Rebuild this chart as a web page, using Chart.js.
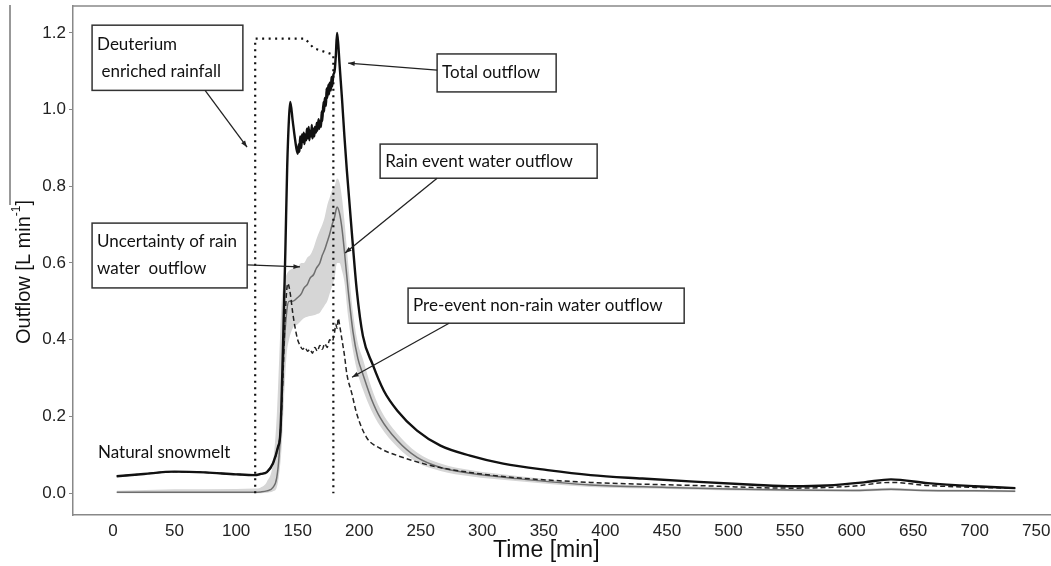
<!DOCTYPE html>
<html>
<head>
<meta charset="utf-8">
<script src="https://cdn.jsdelivr.net/npm/chart.js@4/dist/chart.umd.min.js"></script>
<style>
  html, body { margin: 0; padding: 0; background: #fff; }
  #wrap { width: 1051px; height: 566px; }
</style>
</head>
<body>
<div id="wrap"><canvas id="outflowChart"></canvas></div>
<script>
// tick labels
const xTicks = [0, 50, 100, 150, 200, 250, 300, 350, 400, 450, 500, 550, 600, 650, 700, 750];
const yTicks = [0, 0.2, 0.4, 0.6, 0.8, 1.0, 1.2];

// deuterium enriched rainfall (dotted)
const rainfallTime = [115.5, 115.5, 156, 163, 179, 179];
const rainfallRate = [0, 1.185, 1.185, 1.16, 1.143, 0];

// total outflow (black)
const totalTime = [3, 25, 50, 75, 100, 115, 120, 125, 130, 134, 136, 138, 140, 141.5, 143, 144, 146, 148, 150,
  151, 151.5, 152, 153, 153.5, 154, 155, 155.5, 156, 157, 157.5, 158, 159, 159.5, 160, 161, 161.5, 162, 163, 163.5, 164,
  165, 165.5, 166, 167, 167.5, 168, 169, 169.5, 170, 171, 171.5, 172, 173, 173.5, 174, 175, 175.5, 176, 177, 177.5, 178,
  179, 180, 181, 182, 183, 184, 186, 188, 190, 194, 198, 203,
  211, 220, 231, 247, 266, 290, 317, 353, 388, 430, 472, 520, 553, 580, 610, 632, 662, 700, 733];
const totalFlow = [0.044, 0.05, 0.056, 0.054, 0.049, 0.047, 0.05, 0.055, 0.078, 0.12, 0.16, 0.37, 0.63, 0.85, 0.98, 1.02, 0.97, 0.92, 0.885,
  0.91, 0.89, 0.93, 0.9, 0.935, 0.915, 0.94, 0.91, 0.935, 0.92, 0.95, 0.925, 0.955, 0.92, 0.945, 0.93, 0.96, 0.925, 0.95, 0.93, 0.955,
  0.94, 0.965, 0.945, 0.975, 0.95, 0.97, 0.955, 0.995, 0.97, 1.02, 0.995, 1.03, 1.01, 1.055, 1.03, 1.065, 1.04, 1.07, 1.05, 1.085, 1.06,
  1.09, 1.1, 1.14, 1.2, 1.17, 1.12, 1.03, 0.93, 0.84, 0.68, 0.53, 0.41,
  0.335, 0.267, 0.215, 0.163, 0.124, 0.098, 0.077, 0.06, 0.047, 0.038, 0.03, 0.022, 0.018, 0.02, 0.028, 0.036, 0.026, 0.018, 0.013];

// pre-event non-rain water outflow (dashed)
const preTime = [3, 25, 50, 75, 100, 115, 120, 125, 130, 134, 136, 138, 140, 142, 144, 146, 148, 150, 152, 154, 156, 158,
  160, 162, 164, 166, 168, 170, 172, 174, 176, 178, 180, 181, 182, 183, 184, 186, 188, 190, 194, 198, 206, 217, 231,
  258, 290, 325, 388, 472, 553, 600, 632, 662, 700, 733];
const preFlow = [0.044, 0.05, 0.056, 0.054, 0.049, 0.047, 0.05, 0.055, 0.078, 0.12, 0.16, 0.3, 0.47, 0.547, 0.52, 0.47, 0.43, 0.40, 0.385, 0.375, 0.38, 0.37,
  0.375, 0.365, 0.38, 0.37, 0.385, 0.375, 0.39, 0.38, 0.40, 0.395, 0.42, 0.44, 0.43, 0.456, 0.44, 0.40, 0.36, 0.31, 0.26, 0.207, 0.145, 0.117, 0.098,
  0.072, 0.054, 0.041, 0.028, 0.02, 0.013, 0.018, 0.028, 0.02, 0.015, 0.013];

// rain event water outflow (grey) and its uncertainty band
const rainTime = [3, 50, 100, 115, 120, 125, 130, 133, 135, 137, 139, 141, 143, 146, 150, 153, 155, 158, 160, 163, 165, 168,
  170, 172, 174, 176, 178, 180, 182, 184, 186, 188, 191, 195, 199, 203, 210, 217, 231, 247, 266, 290, 325, 388,
  450, 500, 550, 600, 632, 660, 700, 733];
const rainFlow = [0.002, 0.002, 0.002, 0.002, 0.003, 0.006, 0.015, 0.04, 0.1, 0.22, 0.38, 0.47, 0.5, 0.5, 0.51, 0.52, 0.534, 0.545, 0.56, 0.57, 0.585, 0.6,
  0.62, 0.635, 0.655, 0.675, 0.70, 0.72, 0.746, 0.73, 0.69, 0.63, 0.53, 0.42, 0.35, 0.31, 0.245, 0.197, 0.137, 0.093, 0.067, 0.052, 0.039, 0.021,
  0.015, 0.011, 0.008, 0.007, 0.01, 0.007, 0.006, 0.005];
const rainLow = [0, 0, 0, 0, 0, 0.001, 0.005, 0.015, 0.05, 0.12, 0.25, 0.36, 0.40, 0.43, 0.44, 0.45, 0.456, 0.46, 0.462, 0.464, 0.466, 0.47,
  0.48, 0.49, 0.5, 0.52, 0.54, 0.56, 0.6, 0.6, 0.58, 0.55, 0.46, 0.37, 0.31, 0.27, 0.215, 0.175, 0.12, 0.08, 0.058, 0.044, 0.032, 0.016,
  0.011, 0.007, 0.005, 0.004, 0.006, 0.004, 0.003, 0.002];
const rainHigh = [0.006, 0.01, 0.011, 0.012, 0.015, 0.03, 0.08, 0.2, 0.35, 0.5, 0.55, 0.57, 0.58, 0.585, 0.59, 0.6, 0.6, 0.615, 0.62, 0.64, 0.66, 0.685,
  0.7, 0.72, 0.75, 0.77, 0.79, 0.8, 0.82, 0.81, 0.77, 0.71, 0.6, 0.47, 0.39, 0.35, 0.275, 0.22, 0.155, 0.106, 0.077, 0.06, 0.046, 0.026,
  0.019, 0.014, 0.011, 0.01, 0.014, 0.01, 0.009, 0.008];

// callout boxes, anchored in data units (time, outflow)
const callouts = [
  { lines: ['Deuterium', ' enriched rainfall'], box: [-17, 1.22, 105.5, 1.05], arrow: [74.8, 1.05, 108.9, 0.902] },
  { lines: ['Uncertainty of rain', 'water  outflow'], box: [-17, 0.704, 109, 0.535], arrow: [109, 0.595, 151.9, 0.59] },
  { lines: ['Total outflow'], box: [263.3, 1.145, 360, 1.046], arrow: [263.3, 1.103, 191, 1.121] },
  { lines: ['Rain event water outflow'], box: [217, 0.91, 393.3, 0.821], arrow: [263.3, 0.821, 188.5, 0.626] },
  { lines: ['Pre-event non-rain water outflow'], box: [239.7, 0.5345, 464, 0.443], arrow: [273, 0.443, 194.2, 0.302] },
  { lines: ['Natural snowmelt'], at: [-12.2, 0.107] }
];

const pts = (ts, vs) => ts.map((t, i) => ({ x: t, y: vs[i] }));
const labelFont = '17px Lato, "Open Sans", sans-serif';
const axisFont = '"Liberation Sans", Arial, sans-serif';

const calloutPlugin = {
  id: 'callouts',
  afterDatasetsDraw(chart) {
    const { ctx, scales: { x, y } } = chart;
    ctx.save();
    ctx.font = labelFont;
    ctx.fillStyle = '#111';
    ctx.textBaseline = 'middle';
    ctx.textAlign = 'left';
    callouts.forEach(c => {
      if (c.at) {
        ctx.fillText(c.lines[0], x.getPixelForValue(c.at[0]), y.getPixelForValue(c.at[1]));
        return;
      }
      const x0 = x.getPixelForValue(c.box[0]), y0 = y.getPixelForValue(c.box[1]);
      const x1 = x.getPixelForValue(c.box[2]), y1 = y.getPixelForValue(c.box[3]);
      ctx.fillStyle = '#fff';
      ctx.fillRect(x0, y0, x1 - x0, y1 - y0);
      ctx.strokeStyle = '#333';
      ctx.lineWidth = 1.5;
      ctx.strokeRect(x0, y0, x1 - x0, y1 - y0);
      ctx.fillStyle = '#111';
      const mid = (y0 + y1) / 2;
      const gap = 27;
      c.lines.forEach((line, i) => {
        const ly = mid + (i - (c.lines.length - 1) / 2) * gap;
        ctx.fillText(line, x0 + 5, ly);
      });

      // arrow
      const ax0 = x.getPixelForValue(c.arrow[0]), ay0 = y.getPixelForValue(c.arrow[1]);
      const ax1 = x.getPixelForValue(c.arrow[2]), ay1 = y.getPixelForValue(c.arrow[3]);
      const ang = Math.atan2(ay1 - ay0, ax1 - ax0);
      ctx.strokeStyle = '#222';
      ctx.lineWidth = 1.3;
      ctx.beginPath();
      ctx.moveTo(ax0, ay0);
      ctx.lineTo(ax1, ay1);
      ctx.stroke();
      ctx.fillStyle = '#222';
      ctx.beginPath();
      ctx.moveTo(ax1, ay1);
      ctx.lineTo(ax1 - 7 * Math.cos(ang - 0.35), ay1 - 7 * Math.sin(ang - 0.35));
      ctx.lineTo(ax1 - 7 * Math.cos(ang + 0.35), ay1 - 7 * Math.sin(ang + 0.35));
      ctx.closePath();
      ctx.fill();
      ctx.fillStyle = '#111';
    });
    ctx.restore();
  },
  afterDraw(chart) {
    const { ctx, chartArea, scales: { x } } = chart;
    ctx.save();
    // top frame line
    ctx.strokeStyle = '#888';
    ctx.lineWidth = 1.5;
    ctx.beginPath();
    ctx.moveTo(chartArea.left, chartArea.top);
    ctx.lineTo(chartArea.right, chartArea.top);
    ctx.stroke();

    // x title
    ctx.fillStyle = '#111';
    ctx.textAlign = 'center';
    ctx.textBaseline = 'middle';
    ctx.font = '23px ' + axisFont;
    ctx.fillText('Time [min]', x.getPixelForValue(352), 551);

    // y title with superscript
    const cy = 272;
    ctx.translate(24, cy);
    ctx.rotate(-Math.PI / 2);
    ctx.textAlign = 'left';
    ctx.font = '20px ' + axisFont;
    const a = 'Outflow [L min', b = '-1', c = ']';
    const wa = ctx.measureText(a).width, wc = ctx.measureText(c).width;
    ctx.font = '12px ' + axisFont;
    const wb = ctx.measureText(b).width;
    const total = wa + wb + wc;
    let px = -total / 2;
    ctx.font = '20px ' + axisFont;
    ctx.fillText(a, px, 0);
    px += wa;
    ctx.font = '12px ' + axisFont;
    ctx.fillText(b, px, -7);
    px += wb;
    ctx.font = '20px ' + axisFont;
    ctx.fillText(c, px, 0);
    // overline artefact above the title
    ctx.strokeStyle = '#333';
    ctx.lineWidth = 1;
    ctx.beginPath();
    ctx.moveTo(cy - 205, -14);
    ctx.lineTo(cy - 5, -14);
    ctx.stroke();
    ctx.restore();
  }
};

const ctx = document.getElementById('outflowChart').getContext('2d');
new Chart(ctx, {
  type: 'line',
  data: {
    datasets: [
      {
        label: 'Total outflow',
        data: pts(totalTime, totalFlow),
        borderColor: '#111',
        borderWidth: 2.4,
        cubicInterpolationMode: 'monotone',
        pointRadius: 0,
        fill: false
      },
      {
        label: 'Deuterium enriched rainfall',
        data: pts(rainfallTime, rainfallRate),
        borderColor: '#111',
        borderWidth: 2.2,
        borderDash: [2, 4.5],
        pointRadius: 0,
        tension: 0,
        fill: false
      },
      {
        label: 'Pre-event non-rain water outflow',
        data: pts(preTime, preFlow),
        borderColor: '#222',
        borderWidth: 1.5,
        borderDash: [5, 3],
        cubicInterpolationMode: 'monotone',
        pointRadius: 0,
        fill: false
      },
      {
        label: 'Rain event water outflow',
        data: pts(rainTime, rainFlow),
        borderColor: '#6e6e6e',
        borderWidth: 1.5,
        cubicInterpolationMode: 'monotone',
        pointRadius: 0,
        fill: false
      },
      {
        label: 'Uncertainty high',
        data: pts(rainTime, rainHigh),
        borderColor: 'rgba(0,0,0,0)',
        borderWidth: 0,
        backgroundColor: '#d6d6d6',
        cubicInterpolationMode: 'monotone',
        pointRadius: 0,
        fill: '+1'
      },
      {
        label: 'Uncertainty low',
        data: pts(rainTime, rainLow),
        borderColor: 'rgba(0,0,0,0)',
        borderWidth: 0,
        cubicInterpolationMode: 'monotone',
        pointRadius: 0,
        fill: false
      }
    ]
  },
  options: {
    responsive: true,
    maintainAspectRatio: false,
    animation: false,
    layout: { padding: { top: 6, right: 0, left: 0, bottom: 0 } },
    plugins: {
      legend: { display: false },
      tooltip: { enabled: false }
    },
    scales: {
      x: {
        type: 'linear',
        min: -32.5,
        max: 762,
        afterBuildTicks: scale => { scale.ticks = xTicks.map(v => ({ value: v })); },
        afterFit: scale => {
          scale.height = 51;
          scale.paddingLeft = 0;
          scale.paddingRight = 0;
        },
        grid: { display: false, drawTicks: false },
        border: { display: true, color: '#888', width: 1.5 },
        ticks: {
          padding: 6,
          color: '#222',
          maxRotation: 0,
          autoSkip: false,
          font: { family: '"Liberation Sans Narrow", ' + axisFont, size: 17 }
        }
      },
      y: {
        min: -0.057,
        max: 1.27,
        afterBuildTicks: scale => { scale.ticks = yTicks.map(v => ({ value: v })); },
        afterFit: scale => {
          scale.width = 73;
          scale.paddingTop = 0;
          scale.paddingBottom = 0;
        },
        grid: { drawOnChartArea: false, drawTicks: true, tickLength: 4, color: '#888' },
        border: { display: true, color: '#888', width: 1.5 },
        ticks: {
          padding: 3,
          color: '#222',
          callback: v => v.toFixed(1),
          font: { family: axisFont, size: 17 }
        }
      }
    }
  },
  plugins: [calloutPlugin]
});
</script>
</body>
</html>
